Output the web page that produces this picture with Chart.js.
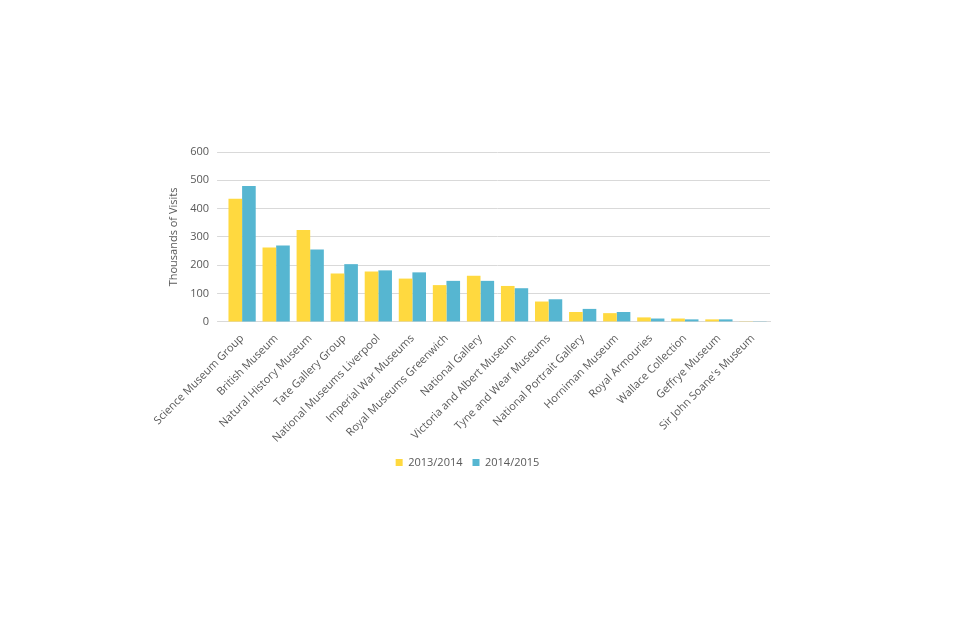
<!DOCTYPE html><html><head><script src="https://cdn.jsdelivr.net/npm/chart.js"></script>
<style>html,body{margin:0;background:#fff}#w{width:960px;height:640px}</style></head><body><div id="w"><canvas id="c"></canvas></div>
<script>
const categories=["Science Museum Group","British Museum","Natural History Museum","Tate Gallery Group","National Museums Liverpool","Imperial War Museums","Royal Museums Greenwich","National Gallery","Victoria and Albert Museum","Tyne and Wear Museums","National Portrait Gallery","Horniman Museum","Royal Armouries","Wallace Collection","Geffrye Museum","Sir John Soane's Museum"];
const s2013=[435,263,325,171,178,153,130,163,127,72,35,31,16,12,9,1];
const s2014=[480,270,256,204,182,175,145,145,119,80,46,35,12,9,9,1];
const yTicks=[0,100,200,300,400,500,600];
Chart.defaults.font.family="'Open Sans', sans-serif";
Chart.defaults.color="#595959";
new Chart(document.getElementById('c'),{type:'bar',
data:{labels:categories,datasets:[
{label:'2013/2014',data:s2013,backgroundColor:'#FFD93F'},
{label:'2014/2015',data:s2014,backgroundColor:'#56B6D1'}]},
options:{responsive:true,maintainAspectRatio:false,animation:false,
layout:{padding:{left:165,right:190,top:152,bottom:162}},
datasets:{bar:{categoryPercentage:0.8,barPercentage:1}},
plugins:{legend:{position:'bottom',labels:{boxWidth:7,boxHeight:7,font:{size:11},padding:10}},tooltip:{enabled:false}},
scales:{x:{grid:{display:false},border:{color:'#d9d9d9'},ticks:{maxRotation:45,minRotation:45,font:{size:11},padding:2}},
y:{min:0,max:600,afterBuildTicks:a=>{a.ticks=yTicks.map(v=>({value:v}))},grid:{color:'#d9d9d9'},border:{display:false},ticks:{font:{size:11},padding:8},
title:{display:true,text:'Thousands of Visits',font:{size:11},padding:2}}}}});
</script></body></html>
